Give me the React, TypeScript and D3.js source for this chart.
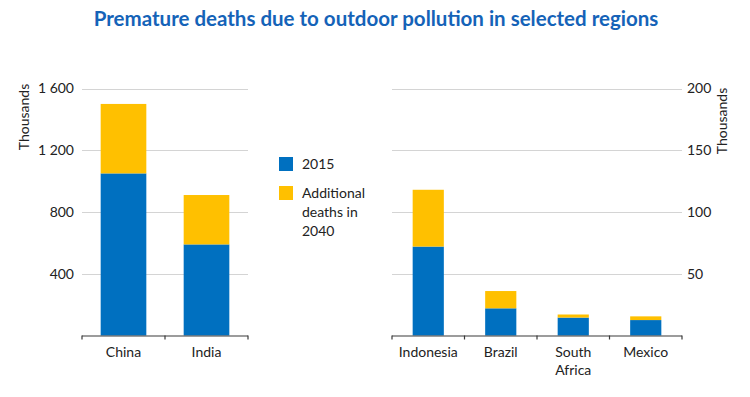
import { useEffect, useRef } from "react"
import * as d3 from "d3"

const leftCategories = ["China", "India"]
const left2015 = [1050, 590]
const leftAdditional = [450, 320]
const leftTicks = [400, 800, 1200, 1600]

const rightCategories = ["Indonesia", "Brazil", "South Africa", "Mexico"]
const right2015 = [72, 22, 14.5, 12.5]
const rightAdditional = [46, 14, 2.5, 3]
const rightTicks = [50, 100, 150, 200]

const legendLabels = ["2015", "Additional deaths in 2040"]

const BLUE = "#0070c0"
const YELLOW = "#ffc000"
const FONT = "Lato, 'Open Sans', sans-serif"

export default function App() {
  const svgRef = useRef<SVGSVGElement>(null)

  useEffect(() => {
    if (!svgRef.current) return
    const svg = d3.select(svgRef.current)
    svg.selectAll("*").remove()

    const top = 88.5
    const bottom = 335.5

    // title
    svg
      .append("text")
      .attr("x", 376)
      .attr("y", 26)
      .attr("text-anchor", "middle")
      .attr("font-family", FONT)
      .attr("font-size", "20.5px")
      .attr("font-weight", "bold")
      .attr("fill", "#1563b8")
      .text("Premature deaths due to outdoor pollution in selected regions")

    const drawPanel = (
      cats: string[],
      base: number[],
      extra: number[],
      ticks: number[],
      max: number,
      x0: number,
      x1: number,
      pad: number,
      side: "left" | "right",
      fmt: (v: number) => string,
    ) => {
      const x = d3.scaleBand<string>().domain(cats).range([x0, x1]).paddingInner(pad).paddingOuter(pad / 2)
      const y = d3.scaleLinear().domain([0, max]).range([bottom, top])
      const g = svg.append("g")

      // gridlines
      g.selectAll(".grid")
        .data(ticks)
        .enter()
        .append("line")
        .attr("x1", x0)
        .attr("x2", x1)
        .attr("y1", (d) => Math.round(y(d)) + 0.5)
        .attr("y2", (d) => Math.round(y(d)) + 0.5)
        .attr("stroke", "#d4d4d4")
        .attr("stroke-width", 1)

      // tick labels
      g.selectAll(".tl")
        .data(ticks)
        .enter()
        .append("text")
        .attr("x", side === "left" ? x0 - 8 : x1 + 5)
        .attr("y", (d) => y(d))
        .attr("dy", "0.35em")
        .attr("text-anchor", side === "left" ? "end" : "start")
        .attr("font-family", FONT)
        .attr("font-size", "14px")
        .attr("fill", "#222")
        .text((d) => fmt(d))

      // bars
      const bw = x.bandwidth()
      g.selectAll(".b1")
        .data(cats)
        .enter()
        .append("rect")
        .attr("x", (d) => x(d)!)
        .attr("width", bw)
        .attr("y", (_, i) => y(base[i]))
        .attr("height", (_, i) => y(0) - y(base[i]))
        .attr("fill", BLUE)
      g.selectAll(".b2")
        .data(cats)
        .enter()
        .append("rect")
        .attr("x", (d) => x(d)!)
        .attr("width", bw)
        .attr("y", (_, i) => y(base[i] + extra[i]))
        .attr("height", (_, i) => y(base[i]) - y(base[i] + extra[i]))
        .attr("fill", YELLOW)

      // axis line & ticks
      g.append("line")
        .attr("x1", x0)
        .attr("x2", x1)
        .attr("y1", bottom + 0.5)
        .attr("y2", bottom + 0.5)
        .attr("stroke", "#3a3a3a")
        .attr("stroke-width", 1.2)
      const step = x.step()
      const bounds = d3.range(cats.length + 1).map((i) => x0 + i * step)
      g.selectAll(".tk")
        .data(bounds)
        .enter()
        .append("line")
        .attr("x1", (d) => d)
        .attr("x2", (d) => d)
        .attr("y1", bottom)
        .attr("y2", bottom + 4)
        .attr("stroke", "#3a3a3a")
        .attr("stroke-width", 1.2)

      // category labels
      g.selectAll(".cl")
        .data(cats)
        .enter()
        .append("text")
        .attr("text-anchor", "middle")
        .attr("font-family", FONT)
        .attr("font-size", "14px")
        .attr("fill", "#222")
        .each(function (d) {
          const words = d.split(" ")
          const t = d3.select(this)
          words.forEach((w, i) => {
            t.append("tspan")
              .attr("x", x(d)! + bw / 2)
              .attr("y", bottom + 21 + i * 18)
              .text(w)
          })
        })

      // axis title
      const tx = side === "left" ? 29 : 727
      const ty = side === "left" ? 117 : 121
      g.append("text")
        .attr("transform", `translate(${tx},${ty}) rotate(-90)`)
        .attr("text-anchor", "middle")
        .attr("font-family", FONT)
        .attr("font-size", "14px")
        .attr("fill", "#222")
        .text("Thousands")
    }

    const fmtSpace = (v: number) => d3.format(",")(v).replace(",", " ")
    drawPanel(leftCategories, left2015, leftAdditional, leftTicks, 1600, 82, 248, 0.45, "left", fmtSpace)
    drawPanel(rightCategories, right2015, rightAdditional, rightTicks, 200, 392, 682, 0.57, "right", (v) => String(v))

    // legend
    const lg = svg.append("g").attr("font-family", FONT).attr("font-size", "14px").attr("fill", "#222")
    const colors = [BLUE, YELLOW]
    const ys = [157, 186]
    legendLabels.forEach((lab, i) => {
      lg.append("rect").attr("x", 279).attr("y", ys[i]).attr("width", 14).attr("height", 14).attr("fill", colors[i])
      const lines = i === 0 ? [lab] : ["Additional", "deaths in", "2040"]
      lines.forEach((ln, j) => {
        lg.append("text")
          .attr("x", 302)
          .attr("y", ys[i] + 12 + j * 19)
          .text(ln)
      })
    })
  }, [])

  return (
    <svg
      ref={svgRef}
      width={750}
      height={397}
      style={{ position: "absolute", left: 0, top: 0, background: "#fff" }}
    />
  )
}
